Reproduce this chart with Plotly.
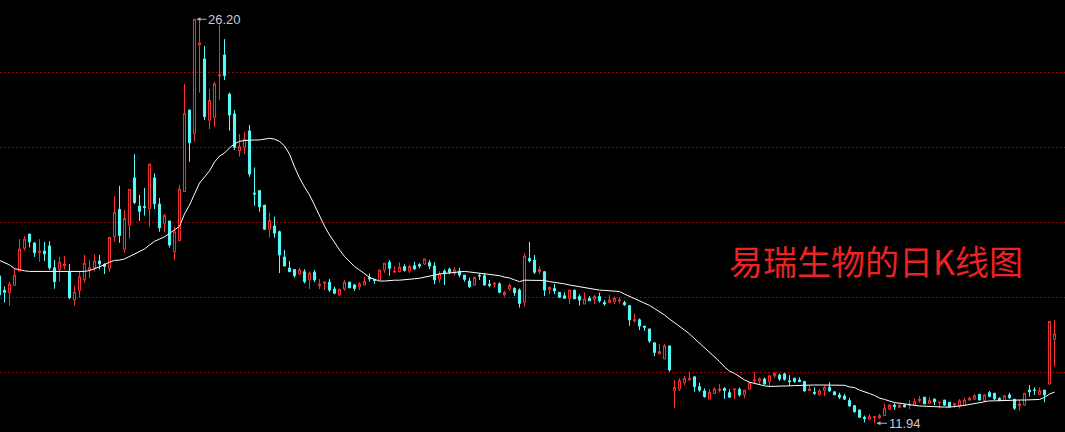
import plotly.graph_objects as go

# ---- data (daily K-line of 易瑞生物) ----
open_ = [17.14,16.63,16.55,16.81,17.31,18.12,18.62,18.30,17.96,18.02,
18.20,17.43,17.37,17.50,17.28,16.30,16.62,17.01,17.35,17.43,
17.67,17.55,17.41,18.52,19.49,18.08,18.93,20.60,19.61,19.59,
19.51,20.60,19.68,19.00,19.08,17.99,18.38,20.12,23.00,22.17,
25.30,24.80,22.64,22.74,24.20,24.94,23.56,22.86,21.56,21.68,
22.26,20.07,20.15,19.64,18.79,18.90,18.70,17.81,17.42,17.37,
17.21,17.29,17.02,17.27,16.79,16.88,16.92,16.68,16.47,16.68,
16.92,16.82,16.76,16.82,17.08,17.02,17.00,17.35,17.62,17.28,
17.29,17.47,17.31,17.50,17.54,17.56,17.61,17.49,17.03,17.31,
17.38,17.23,17.31,17.17,16.96,16.82,17.16,17.15,16.85,16.85,
16.86,16.47,16.68,16.70,16.64,16.21,17.76,17.70,17.29,17.29,
16.67,16.70,16.56,16.44,16.35,16.64,16.41,16.15,16.35,16.32,
16.41,16.20,16.20,16.23,16.26,16.20,16.09,15.55,15.59,15.37,
15.27,14.78,14.39,14.21,14.67,13.09,13.15,13.37,13.47,13.58,
13.23,13.08,12.79,12.99,13.09,13.17,13.02,13.13,13.14,12.94,
13.14,13.43,13.43,13.50,13.41,13.61,13.64,13.68,13.44,13.53,
13.47,13.41,13.09,13.03,12.96,13.09,13.21,13.05,12.94,12.90,
12.74,12.56,12.41,12.15,12.08,12.15,12.13,12.21,12.44,12.58,
12.50,12.58,12.57,12.58,12.74,12.86,12.64,12.79,12.67,12.76,
12.68,12.58,12.55,12.58,12.76,12.79,12.96,12.74,13.02,13.00,
12.82,12.74,12.94,12.79,12.56,12.58,13.11,13.11,12.96,13.11,
13.33,14.90]

high_ = [17.28,16.77,16.94,17.41,18.44,18.55,18.62,18.34,18.44,18.34,
18.37,17.70,17.82,17.84,17.56,16.79,17.29,17.88,17.70,17.90,
17.88,17.59,18.52,19.96,20.32,19.47,20.20,21.44,20.00,20.25,
21.09,20.76,19.89,19.33,19.08,18.88,20.35,23.92,23.00,26.20,
26.14,25.26,23.74,24.00,26.00,25.50,23.61,23.00,22.15,22.23,
22.47,20.97,20.17,19.64,19.37,19.23,18.74,18.06,17.67,17.38,
17.43,17.38,17.29,17.35,17.03,16.94,17.03,16.76,16.67,17.00,
16.94,16.86,16.92,17.11,17.23,17.03,17.35,17.59,17.70,17.49,
17.62,17.55,17.53,17.64,17.59,17.74,17.70,17.62,17.31,17.38,
17.43,17.45,17.43,17.17,17.08,17.11,17.23,17.23,17.00,16.92,
16.92,16.62,16.86,16.74,16.70,17.94,18.34,17.88,17.49,17.31,
16.76,16.85,16.57,16.56,16.64,16.64,16.49,16.56,16.43,16.47,
16.55,16.29,16.47,16.41,16.39,16.26,16.12,15.80,15.64,15.37,
15.27,14.78,14.74,14.74,14.67,13.47,13.53,13.61,13.76,13.58,
13.37,13.17,13.14,13.21,13.33,13.21,13.14,13.15,13.20,13.11,
13.37,13.74,13.56,13.56,13.64,13.74,13.70,13.72,13.64,13.53,
13.56,13.44,13.26,13.21,13.15,13.26,13.39,13.05,13.02,12.97,
12.84,12.58,12.41,12.21,12.26,12.17,12.27,12.64,12.62,12.64,
12.64,12.62,12.76,12.82,12.90,12.86,12.86,12.82,12.69,12.76,
12.68,12.66,12.79,12.84,12.88,12.96,12.97,12.97,13.08,13.00,
12.86,12.94,13.02,12.79,12.76,13.00,13.29,13.21,13.20,13.11,
15.53,15.59]

low_ = [16.22,16.20,16.09,16.79,17.29,18.03,18.15,17.81,17.64,17.67,
17.35,16.69,16.94,17.37,16.32,16.09,16.37,16.90,17.06,17.29,
17.37,17.21,17.29,18.33,18.31,17.96,18.46,19.68,19.09,19.27,
18.88,19.50,18.70,18.69,18.15,17.70,18.38,20.12,21.17,21.88,
23.61,22.64,22.32,22.41,23.35,24.06,22.27,21.59,21.35,21.44,
20.64,19.62,19.41,18.76,18.49,18.49,17.24,17.49,17.29,17.08,
17.17,16.88,16.68,16.92,16.68,16.64,16.58,16.49,16.44,16.62,
16.71,16.61,16.64,16.81,16.94,16.86,17.00,17.25,17.15,17.25,
17.27,17.29,17.24,17.35,17.41,17.53,17.38,16.85,16.90,16.82,
17.20,17.15,17.09,16.94,16.72,16.79,17.00,16.80,16.74,16.74,
16.53,16.41,16.62,16.44,16.02,16.06,17.62,17.21,17.21,16.43,
16.50,16.50,16.36,16.33,16.15,16.33,16.09,16.15,16.26,16.15,
16.20,16.09,16.20,16.15,16.17,16.09,15.38,15.50,15.23,15.20,
14.78,14.32,14.39,14.21,13.76,12.49,13.08,13.29,13.44,13.05,
13.05,12.84,12.79,12.97,13.03,12.80,12.84,12.79,12.88,12.82,
13.14,13.35,13.33,13.29,13.21,13.53,13.43,13.44,13.26,13.37,
13.39,13.05,13.09,12.94,12.91,12.90,13.05,12.94,12.79,12.76,
12.52,12.31,12.15,11.97,12.06,11.94,12.08,12.21,12.41,12.41,
12.50,12.50,12.44,12.58,12.66,12.62,12.62,12.58,12.46,12.55,
12.50,12.49,12.46,12.55,12.73,12.76,12.74,12.70,12.86,12.76,
12.74,12.73,12.80,12.41,12.38,12.55,12.88,12.94,12.94,12.68,
13.29,13.94]

close_ = [16.47,16.56,16.85,17.17,18.09,18.44,18.34,17.96,18.01,17.92,
17.43,16.94,17.63,17.56,16.37,16.57,17.11,17.59,17.43,17.67,
17.56,17.47,18.50,19.39,18.57,19.17,20.20,19.73,19.42,19.56,
21.09,19.69,18.84,19.28,18.23,18.70,20.20,22.88,21.84,26.20,
25.37,22.76,23.33,23.92,24.23,24.21,22.82,21.68,21.70,21.97,
20.74,20.03,19.58,18.79,19.09,18.65,17.88,17.49,17.29,17.15,
17.35,16.94,17.24,17.00,16.85,16.92,16.64,16.53,16.67,16.92,
16.72,16.70,16.86,16.94,17.03,16.98,17.35,17.59,17.41,17.30,
17.45,17.33,17.47,17.39,17.49,17.74,17.49,17.00,17.21,17.23,
17.27,17.35,17.17,17.02,16.76,17.08,17.14,16.82,16.80,16.88,
16.56,16.56,16.80,16.55,16.17,17.84,17.67,17.27,17.37,16.64,
16.74,16.61,16.39,16.35,16.64,16.33,16.29,16.33,16.26,16.41,
16.26,16.15,16.29,16.35,16.29,16.12,15.59,15.59,15.37,15.33,
14.84,14.44,14.47,14.67,13.82,13.21,13.44,13.53,13.53,13.23,
13.11,12.88,13.03,13.15,13.14,13.09,12.86,13.15,12.94,13.11,
13.37,13.47,13.50,13.33,13.61,13.70,13.50,13.49,13.41,13.41,
13.41,13.08,13.14,13.00,13.08,13.21,13.08,12.94,12.86,12.79,
12.55,12.35,12.15,12.10,12.17,12.17,12.21,12.47,12.58,12.52,
12.58,12.52,12.58,12.70,12.79,12.62,12.74,12.70,12.68,12.58,
12.52,12.62,12.73,12.76,12.82,12.91,12.76,12.94,12.88,12.80,
12.74,12.91,12.84,12.47,12.62,13.00,13.05,13.10,13.09,12.94,
15.53,15.09]

ma_line = [17.69,17.62,17.53,17.40,17.35,17.32,17.30,17.30,17.28,17.28,
17.28,17.29,17.30,17.30,17.30,17.30,17.30,17.30,17.33,17.39,
17.46,17.54,17.63,17.69,17.70,17.74,17.83,17.92,17.99,18.09,
18.23,18.36,18.44,18.52,18.64,18.78,18.89,19.33,19.64,20.03,
20.42,20.63,20.85,21.16,21.37,21.48,21.66,21.80,21.89,21.92,
21.94,21.94,21.94,21.96,22.00,21.97,21.89,21.73,21.44,20.99,
20.60,20.28,20.00,19.64,19.26,18.90,18.59,18.30,18.06,17.83,
17.63,17.47,17.35,17.23,17.09,17.02,16.96,16.96,16.98,16.99,
16.99,17.00,17.02,17.04,17.06,17.09,17.14,17.17,17.21,17.23,
17.25,17.27,17.29,17.30,17.28,17.26,17.24,17.22,17.21,17.17,
17.15,17.10,17.07,17.00,16.94,16.99,16.99,16.99,16.99,16.98,
16.94,16.92,16.88,16.86,16.82,16.79,16.74,16.72,16.68,16.66,
16.64,16.63,16.62,16.61,16.59,16.50,16.42,16.33,16.24,16.17,
16.10,15.99,15.89,15.76,15.62,15.50,15.37,15.23,15.09,14.93,
14.79,14.61,14.46,14.28,14.12,13.93,13.78,13.70,13.57,13.47,
13.39,13.34,13.29,13.26,13.24,13.24,13.26,13.26,13.26,13.27,
13.28,13.29,13.29,13.29,13.29,13.29,13.29,13.29,13.29,13.28,
13.22,13.20,13.11,13.06,12.99,12.92,12.83,12.78,12.72,12.67,
12.65,12.62,12.58,12.57,12.55,12.54,12.52,12.51,12.51,12.51,
12.51,12.52,12.55,12.57,12.60,12.64,12.67,12.70,12.73,12.73,
12.74,12.75,12.76,12.76,12.76,12.76,12.76,12.76,12.78,12.85,
12.97,13.04]

day_index = list(range(len(open_)))
grid_levels = [13.74, 16.39, 19.03, 21.68, 24.33]
high_label = "26.20"
low_label = "11.94"
title_text = "易瑞生物的日K线图"

UP = "#FF3232"
DOWN = "#54FCFC"

hi_idx = high_.index(max(high_))
lo_idx = low_.index(min(low_))

fig = go.Figure()
fig.add_trace(go.Candlestick(
    x=day_index, open=open_, high=high_, low=low_, close=close_,
    increasing=dict(line=dict(color=UP, width=1), fillcolor="#000000"),
    decreasing=dict(line=dict(color=DOWN, width=1), fillcolor=DOWN),
    whiskerwidth=0, showlegend=False,
))
fig.add_trace(go.Scatter(
    x=day_index, y=ma_line, mode="lines",
    line=dict(color="#FFFFFF", width=1), showlegend=False,
))

fig.add_annotation(x=day_index[hi_idx], y=max(high_), text=high_label,
                   showarrow=True, ax=30, ay=0, arrowhead=2, arrowsize=0.8,
                   arrowwidth=1, arrowcolor="#B4B4B4", standoff=2,
                   font=dict(family="Liberation Sans, Arial", size=13, color="#C8CCD4"))
fig.add_annotation(x=day_index[lo_idx], y=min(low_), text=low_label,
                   showarrow=True, ax=30, ay=0, arrowhead=2, arrowsize=0.8,
                   arrowwidth=1, arrowcolor="#B4B4B4", standoff=2,
                   font=dict(family="Liberation Sans, Arial", size=13, color="#C8CCD4"))
fig.add_annotation(xref="paper", yref="paper", x=0.8225, y=0.398,
                   xanchor="center", yanchor="middle", showarrow=False,
                   text=title_text,
                   font=dict(family="Noto Sans CJK SC", size=34, color="#EE2222"))

fig.update_layout(
    width=1065, height=432,
    margin=dict(l=0, r=0, t=0, b=0),
    paper_bgcolor="#000000", plot_bgcolor="#000000",
    showlegend=False, boxgap=0.4,
    xaxis=dict(range=[0.1, 213.1], showgrid=False, zeroline=False,
               showticklabels=False, ticks="", showline=False,
               rangeslider=dict(visible=False)),
    yaxis=dict(range=[11.631, 26.881], tickvals=grid_levels,
               showticklabels=False, ticks="", showline=False,
               showgrid=True, gridcolor="#A00000", griddash="2px,2px",
               gridwidth=1, zeroline=False),
)

fig.write_html(
    "out.html",
    config={"displayModeBar": False},
    post_script="document.body.style.margin='0';document.body.style.background='#000';",
)
